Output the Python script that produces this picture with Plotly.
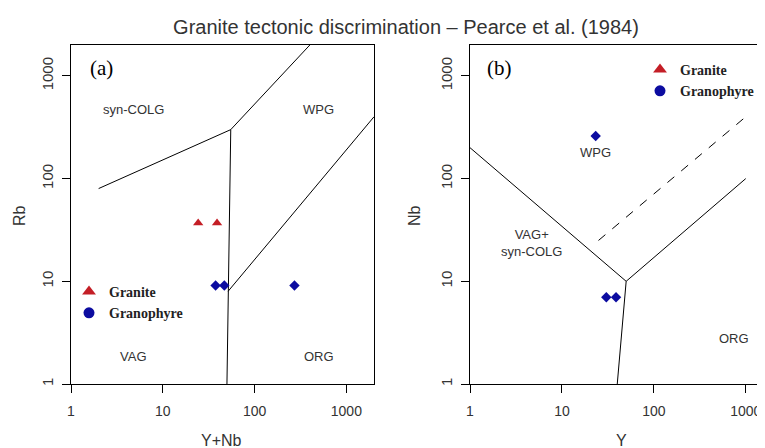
import plotly.graph_objects as go
import numpy as np

# ---------------- data ----------------
# Panel (a): Rb vs Y+Nb
granite_ynb = [24.3, 39.0]
granite_rb = [37.0, 37.0]
granophyre_ynb = [37.6, 46.8, 272.0]
granophyre_rb = [9.1, 9.1, 9.1]

# Panel (b): Nb vs Y
granophyre_y = [23.3, 30.4, 38.8]
granophyre_nb = [260.0, 7.0, 7.0]

# Pearce et al. (1984) field boundaries, panel (a)
a_colg_x = [2, 55]
a_colg_y = [80, 300]
a_vag_x = [55, 51.5, 50]
a_vag_y = [300, 8, 1]
a_wpg_x = [55, 400]
a_wpg_y = [300, 2000]
a_org_x = [51.5, 2000]
a_org_y = [8, 400]

# panel (b)
b_vag_x = [1, 50]
b_vag_y = [200, 10]
b_org_x = [50, 1000]
b_org_y = [10, 100]
b_low_x = [50, 40]
b_low_y = [10, 1]
b_dash_x = [25, 1000]
b_dash_y = [25, 400]

# field labels
a_labels = ["syn-COLG", "WPG", "VAG", "ORG"]
a_lab_x = [4.8, 500, 4.8, 500]
a_lab_y = [470, 470, 1.85, 1.85]
b_labels = ["WPG", "VAG+<br>syn-COLG", "ORG"]
b_lab_x = [23, 4.7, 740]
b_lab_y = [180, 23.5, 2.8]

tick_vals = [1, 10, 100, 1000]
tick_text = ["1", "10", "100", "1000"]

RED = "#c41e26"
BLUE = "#0c0ca0"

# page body has an 8px margin: figure is offset by (8, 8) in the window
OFF = 8
W, H = 765 - OFF, 448 - OFF


def px(X):
    return (X - OFF) / W


def py(Y):
    return 1 - (Y - OFF) / H


fig = go.Figure()

line_style = dict(color="black", width=1)
for xs, ys in [(a_colg_x, a_colg_y), (a_vag_x, a_vag_y), (a_wpg_x, a_wpg_y), (a_org_x, a_org_y)]:
    fig.add_trace(go.Scatter(x=xs, y=ys, mode="lines", line=line_style,
                             showlegend=False, hoverinfo="skip", xaxis="x", yaxis="y"))
for xs, ys in [(b_vag_x, b_vag_y), (b_org_x, b_org_y), (b_low_x, b_low_y)]:
    fig.add_trace(go.Scatter(x=xs, y=ys, mode="lines", line=line_style,
                             showlegend=False, hoverinfo="skip", xaxis="x2", yaxis="y2"))
fig.add_trace(go.Scatter(x=b_dash_x, y=b_dash_y, mode="lines",
                         line=dict(color="black", width=1, dash="dash"),
                         showlegend=False, hoverinfo="skip", xaxis="x2", yaxis="y2"))

# data points
fig.add_trace(go.Scatter(x=granite_ynb, y=granite_rb, mode="markers", name="Granite",
                         marker=dict(symbol="triangle-up", size=9, color=RED),
                         showlegend=False, xaxis="x", yaxis="y"))
fig.add_trace(go.Scatter(x=granophyre_ynb, y=granophyre_rb, mode="markers", name="Granophyre",
                         marker=dict(symbol="diamond", size=8, color=BLUE),
                         showlegend=False, xaxis="x", yaxis="y"))
fig.add_trace(go.Scatter(x=granophyre_y, y=granophyre_nb, mode="markers", name="Granophyre",
                         marker=dict(symbol="diamond", size=8, color=BLUE),
                         showlegend=False, xaxis="x2", yaxis="y2"))

# legend entries
for lg, ax, ay in [("legend", "x", "y"), ("legend2", "x2", "y2")]:
    fig.add_trace(go.Scatter(x=[None], y=[None], mode="markers", name="Granite",
                             marker=dict(symbol="triangle-up", size=12, color=RED),
                             legend=lg, xaxis=ax, yaxis=ay))
    fig.add_trace(go.Scatter(x=[None], y=[None], mode="markers", name="Granophyre",
                             marker=dict(symbol="circle", size=11, color=BLUE),
                             legend=lg, xaxis=ax, yaxis=ay))

# geometry (window pixels)
L1, R1 = 71, 374
L2, R2 = 470, 765
TOP, BOT = 45, 384
ydom = [py(BOT), py(TOP)]

axis_common = dict(type="log", showline=True, mirror=True, linecolor="black", linewidth=1.2,
                   ticks="outside", ticklen=8, tickcolor="black", tickwidth=1,
                   tickvals=tick_vals, ticktext=tick_text, showgrid=False, zeroline=False,
                   automargin=False)
xfont = dict(family="Liberation Sans, Arial", size=14, color="#333333")
yfont = dict(family="Liberation Sans, Arial", size=15, color="#333333")

leg_font = dict(family="Liberation Serif, Times New Roman", size=14, color="#222222", weight="bold")

fig.update_layout(
    width=W, height=H,
    margin=dict(l=0, r=0, t=0, b=0),
    plot_bgcolor="white", paper_bgcolor="white",
    xaxis=dict(axis_common, domain=[px(L1), px(R1)], range=[0, np.log10(2000)], anchor="y",
               tickfont=xfont, ticklabelstandoff=6),
    yaxis=dict(axis_common, domain=ydom, range=[0, np.log10(2000)], anchor="x", tickangle=-90,
               tickfont=yfont, ticklabelstandoff=3),
    xaxis2=dict(axis_common, domain=[px(L2), min(1.0, px(R2))], range=[0, np.log10(1620)],
                anchor="y2", tickfont=xfont, ticklabelstandoff=6),
    yaxis2=dict(axis_common, domain=ydom, range=[0, np.log10(2000)], anchor="x2", tickangle=-90,
                tickfont=yfont, ticklabelstandoff=3),
    title=dict(text="Granite tectonic discrimination – Pearce et al. (1984)",
               x=px(406), xanchor="center", y=py(27), yanchor="middle",
               font=dict(family="Liberation Sans, Arial", size=20, color="#333333")),
    legend=dict(x=px(69), y=py(276), xanchor="left", yanchor="top",
                bgcolor="rgba(255,255,255,0)", tracegroupgap=0, font=leg_font, itemwidth=30),
    legend2=dict(x=px(640), y=py(54), xanchor="left", yanchor="top",
                 bgcolor="rgba(255,255,255,0)", tracegroupgap=0, font=leg_font, itemwidth=30),
)

ann = []
lab_font = dict(family="Liberation Sans, Arial", size=13, color="#333333")
for t, x, y in zip(a_labels, a_lab_x, a_lab_y):
    ann.append(dict(text=t, x=np.log10(x), y=np.log10(y), xref="x", yref="y",
                    xanchor="center", yanchor="middle", showarrow=False, font=lab_font))
for t, x, y in zip(b_labels, b_lab_x, b_lab_y):
    ann.append(dict(text=t, x=np.log10(x), y=np.log10(y), xref="x2", yref="y2",
                    xanchor="center", yanchor="middle", showarrow=False, font=lab_font))


def paper_text(text, X, Y, font, angle=0):
    return dict(text=text, x=px(X), y=py(Y), xref="paper", yref="paper",
                xanchor="center", yanchor="middle", showarrow=False,
                textangle=angle, font=font)


panel_font = dict(family="Liberation Serif, Times New Roman", size=21, color="black")
ann.append(paper_text("(a)", 101, 68, panel_font))
ann.append(paper_text("(b)", 499, 68, panel_font))
title_font = dict(family="Liberation Sans, Arial", size=16, color="#333333")
ann.append(paper_text("Y+Nb", 221, 440, title_font))
ann.append(paper_text("Y", 621, 440, title_font))
ann.append(paper_text("Rb", 20, 216, title_font, -90))
ann.append(paper_text("Nb", 415, 216, title_font, -90))
fig.update_layout(annotations=ann)

fig.write_html("out.html")
